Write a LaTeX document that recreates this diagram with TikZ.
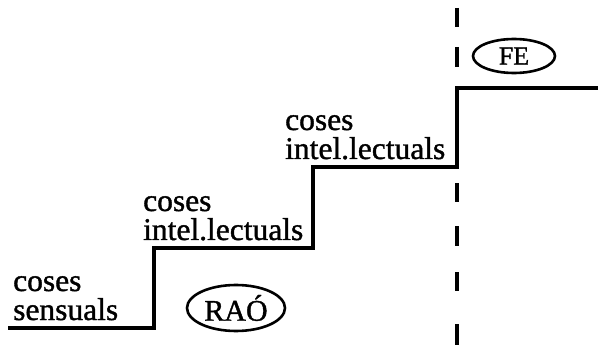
\documentclass[tikz,border=0pt]{standalone}
\usepackage{fontspec}
\setmainfont{Liberation Serif}[FakeBold=1.2]
\usetikzlibrary{shapes.geometric}
\begin{document}
\begin{tikzpicture}[x=1pt,y=-1pt,
  lbl/.style={anchor=base west,inner sep=0pt,font=\fontsize{31.5}{36}\selectfont},
  stair/.style={line width=3.4pt,line join=miter},
  dsh/.style={line width=3.2pt},
  oval/.style={draw,ellipse,line width=2.6pt,inner sep=0pt,font=\fontsize{30}{36}\selectfont}]
\useasboundingbox (0,0) rectangle (598,345);
\draw[stair] (8,328) -- (154,328) -- (154,248) -- (313,248) -- (313,167) -- (457,167) -- (457,88) -- (598,88);
\node[lbl] (s1a) at (13,291) {coses};
\node[lbl] (s1b) at (13,320) {sensuals};
\node[lbl] (s2a) at (143,211) {coses};
\node[lbl] (s2b) at (143,240) {intel.lectuals};
\node[lbl] (s3a) at (285,130) {coses};
\node[lbl] (s3b) at (285,159) {intel.lectuals};
\foreach \a/\b in {8/27,47/67,183/202,226/246,272/291,324/345}
  \draw[dsh] (457,\a) -- (457,\b);
\node[oval,minimum width=98,minimum height=46] (rao) at (236,308) {RAÓ};
\node[oval,minimum width=82,minimum height=34,font=\fontsize{26}{30}\selectfont] (fe) at (514,56) {FE};
\end{tikzpicture}
\end{document}
